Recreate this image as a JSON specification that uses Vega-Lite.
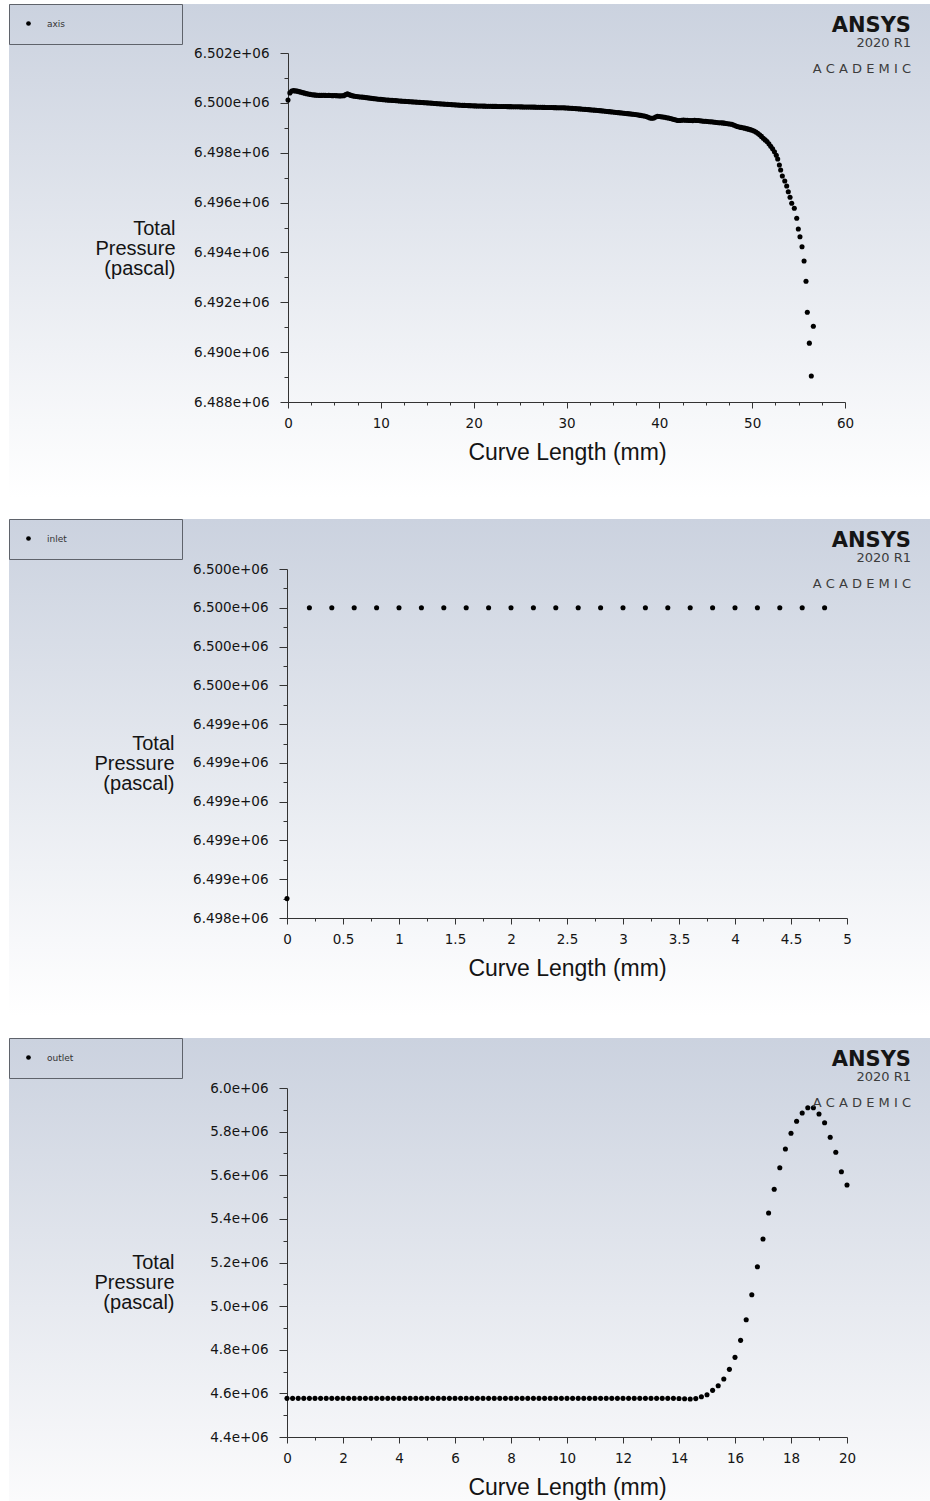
{
  "$schema": "https://vega.github.io/schema/vega-lite/v6.json",
  "background": "#ffffff",
  "padding": {"left": 8, "top": 3, "right": 0, "bottom": 0},
  "spacing": 20,
  "resolve": {"scale": {"color": "independent"}, "legend": {"color": "independent"}},
  "config": {
    "font": "Liberation Sans",
    "axis": {
      "grid": false,
      "domainColor": "#333333",
      "tickColor": "#333333",
      "domainWidth": 1,
      "tickWidth": 1,
      "labelColor": "#141414",
      "labelFont": "DejaVu Sans",
      "labelFontSize": 13.5,
      "titleColor": "#141414",
      "titleFont": "Liberation Sans",
      "titleFontWeight": "normal",
      "labelOverlap": false,
      "labelFlush": false,
      "labelBound": false
    },
    "axisX": {"labelPadding": 8, "titleFontSize": 23, "titleX": 558, "titleY": 57, "titleBaseline": "alphabetic", "titleAlign": "center", "titleAnchor": null},
    "axisY": {"labelPadding": 11, "titleFontSize": 20, "titleLineHeight": 20, "titleAngle": 0, "titleAlign": "right", "titleBaseline": "middle", "titleX": -113, "titleY": 224},
    "legend": {
      "fillColor": null,
      "strokeColor": "#5f636b",
      "padding": 15,
      "symbolType": "circle",
      "symbolSize": 22,
      "symbolFillColor": "#000000",
      "symbolStrokeWidth": 0,
      "labelFont": "DejaVu Sans",
      "labelFontSize": 9,
      "labelColor": "#333333",
      "labelOffset": 14,
      "titleFontSize": 9,
      "titleOrient": "right"
    },
    "title": {
      "anchor": "end",
      "frame": "group",
      "orient": "top",
      "font": "DejaVu Sans",
      "fontWeight": "bold",
      "fontSize": 21,
      "color": "#151515",
      "subtitleFont": "DejaVu Sans",
      "subtitleFontSize": 13,
      "subtitleColor": "#3c3c3c",
      "subtitleLineHeight": 26,
      "subtitlePadding": 1,
      "dx": -19,
      "dy": 76,
      "offset": 0
    }
  },
  "datasets": {
    "axis": [
      {"mm":0,"pa":6500110},{"mm":0.2,"pa":6500400},{"mm":0.4,"pa":6500475},{"mm":0.6,"pa":6500490},{"mm":0.8,"pa":6500480},
      {"mm":1,"pa":6500470},{"mm":1.2,"pa":6500450},{"mm":1.4,"pa":6500430},{"mm":1.6,"pa":6500410},{"mm":1.8,"pa":6500390},
      {"mm":2,"pa":6500370},{"mm":2.2,"pa":6500355},{"mm":2.4,"pa":6500340},{"mm":2.6,"pa":6500325},{"mm":2.8,"pa":6500320},
      {"mm":3,"pa":6500310},{"mm":3.2,"pa":6500305},{"mm":3.4,"pa":6500300},{"mm":3.6,"pa":6500300},{"mm":3.8,"pa":6500305},
      {"mm":4,"pa":6500300},{"mm":4.2,"pa":6500295},{"mm":4.4,"pa":6500300},{"mm":4.6,"pa":6500295},{"mm":4.8,"pa":6500290},
      {"mm":5,"pa":6500295},{"mm":5.2,"pa":6500290},{"mm":5.4,"pa":6500285},{"mm":5.6,"pa":6500280},{"mm":5.8,"pa":6500285},
      {"mm":6,"pa":6500290},{"mm":6.2,"pa":6500330},{"mm":6.4,"pa":6500360},{"mm":6.6,"pa":6500330},{"mm":6.8,"pa":6500300},
      {"mm":7,"pa":6500280},{"mm":7.2,"pa":6500265},{"mm":7.4,"pa":6500255},{"mm":7.6,"pa":6500245},{"mm":7.8,"pa":6500235},
      {"mm":8,"pa":6500230},{"mm":8.2,"pa":6500220},{"mm":8.4,"pa":6500210},{"mm":8.6,"pa":6500200},{"mm":8.8,"pa":6500190},
      {"mm":9,"pa":6500180},{"mm":9.2,"pa":6500170},{"mm":9.4,"pa":6500165},{"mm":9.6,"pa":6500155},{"mm":9.8,"pa":6500145},
      {"mm":10,"pa":6500140},{"mm":10.2,"pa":6500130},{"mm":10.4,"pa":6500125},{"mm":10.6,"pa":6500115},{"mm":10.8,"pa":6500110},
      {"mm":11,"pa":6500105},{"mm":11.2,"pa":6500100},{"mm":11.4,"pa":6500095},{"mm":11.6,"pa":6500090},{"mm":11.8,"pa":6500085},
      {"mm":12,"pa":6500075},{"mm":12.2,"pa":6500070},{"mm":12.4,"pa":6500065},{"mm":12.6,"pa":6500060},{"mm":12.8,"pa":6500055},
      {"mm":13,"pa":6500050},{"mm":13.2,"pa":6500045},{"mm":13.4,"pa":6500040},{"mm":13.6,"pa":6500035},{"mm":13.8,"pa":6500030},
      {"mm":14,"pa":6500025},{"mm":14.2,"pa":6500020},{"mm":14.4,"pa":6500015},{"mm":14.6,"pa":6500010},{"mm":14.8,"pa":6500005},
      {"mm":15,"pa":6500000},{"mm":15.2,"pa":6499995},{"mm":15.4,"pa":6499990},{"mm":15.6,"pa":6499985},{"mm":15.8,"pa":6499975},
      {"mm":16,"pa":6499970},{"mm":16.2,"pa":6499965},{"mm":16.4,"pa":6499960},{"mm":16.6,"pa":6499955},{"mm":16.8,"pa":6499950},
      {"mm":17,"pa":6499945},{"mm":17.2,"pa":6499940},{"mm":17.4,"pa":6499935},{"mm":17.6,"pa":6499930},{"mm":17.8,"pa":6499925},
      {"mm":18,"pa":6499920},{"mm":18.2,"pa":6499915},{"mm":18.4,"pa":6499910},{"mm":18.6,"pa":6499905},{"mm":18.8,"pa":6499900},
      {"mm":19,"pa":6499897},{"mm":19.2,"pa":6499893},{"mm":19.4,"pa":6499890},{"mm":19.6,"pa":6499887},{"mm":19.8,"pa":6499884},
      {"mm":20,"pa":6499880},{"mm":20.2,"pa":6499878},{"mm":20.4,"pa":6499876},{"mm":20.6,"pa":6499874},{"mm":20.8,"pa":6499872},
      {"mm":21,"pa":6499870},{"mm":21.2,"pa":6499868},{"mm":21.4,"pa":6499866},{"mm":21.6,"pa":6499864},{"mm":21.8,"pa":6499862},
      {"mm":22,"pa":6499860},{"mm":22.2,"pa":6499858},{"mm":22.4,"pa":6499857},{"mm":22.6,"pa":6499855},{"mm":22.8,"pa":6499854},
      {"mm":23,"pa":6499853},{"mm":23.2,"pa":6499852},{"mm":23.4,"pa":6499851},{"mm":23.6,"pa":6499850},{"mm":23.8,"pa":6499848},
      {"mm":24,"pa":6499847},{"mm":24.2,"pa":6499846},{"mm":24.4,"pa":6499845},{"mm":24.6,"pa":6499843},{"mm":24.8,"pa":6499841},
      {"mm":25,"pa":6499840},{"mm":25.2,"pa":6499838},{"mm":25.4,"pa":6499836},{"mm":25.6,"pa":6499835},{"mm":25.8,"pa":6499833},
      {"mm":26,"pa":6499832},{"mm":26.2,"pa":6499830},{"mm":26.4,"pa":6499829},{"mm":26.6,"pa":6499827},{"mm":26.8,"pa":6499825},
      {"mm":27,"pa":6499823},{"mm":27.2,"pa":6499821},{"mm":27.4,"pa":6499820},{"mm":27.6,"pa":6499818},{"mm":27.8,"pa":6499816},
      {"mm":28,"pa":6499815},{"mm":28.2,"pa":6499813},{"mm":28.4,"pa":6499812},{"mm":28.6,"pa":6499810},{"mm":28.8,"pa":6499808},
      {"mm":29,"pa":6499806},{"mm":29.2,"pa":6499805},{"mm":29.4,"pa":6499803},{"mm":29.6,"pa":6499801},{"mm":29.8,"pa":6499800},
      {"mm":30,"pa":6499795},{"mm":30.2,"pa":6499790},{"mm":30.4,"pa":6499785},{"mm":30.6,"pa":6499780},{"mm":30.8,"pa":6499775},
      {"mm":31,"pa":6499770},{"mm":31.2,"pa":6499763},{"mm":31.4,"pa":6499757},{"mm":31.6,"pa":6499751},{"mm":31.8,"pa":6499745},
      {"mm":32,"pa":6499740},{"mm":32.2,"pa":6499733},{"mm":32.4,"pa":6499727},{"mm":32.6,"pa":6499720},{"mm":32.8,"pa":6499714},
      {"mm":33,"pa":6499708},{"mm":33.2,"pa":6499702},{"mm":33.4,"pa":6499695},{"mm":33.6,"pa":6499687},{"mm":33.8,"pa":6499680},
      {"mm":34,"pa":6499672},{"mm":34.2,"pa":6499664},{"mm":34.4,"pa":6499656},{"mm":34.6,"pa":6499648},{"mm":34.8,"pa":6499640},
      {"mm":35,"pa":6499632},{"mm":35.2,"pa":6499624},{"mm":35.4,"pa":6499616},{"mm":35.6,"pa":6499608},{"mm":35.8,"pa":6499600},
      {"mm":36,"pa":6499592},{"mm":36.2,"pa":6499584},{"mm":36.4,"pa":6499576},{"mm":36.6,"pa":6499568},{"mm":36.8,"pa":6499560},
      {"mm":37,"pa":6499550},{"mm":37.2,"pa":6499540},{"mm":37.4,"pa":6499530},{"mm":37.6,"pa":6499520},{"mm":37.8,"pa":6499508},
      {"mm":38,"pa":6499496},{"mm":38.2,"pa":6499484},{"mm":38.4,"pa":6499472},{"mm":38.6,"pa":6499455},{"mm":38.8,"pa":6499420},
      {"mm":39,"pa":6499390},{"mm":39.2,"pa":6499380},{"mm":39.4,"pa":6499390},{"mm":39.6,"pa":6499430},{"mm":39.8,"pa":6499460},
      {"mm":40,"pa":6499455},{"mm":40.2,"pa":6499445},{"mm":40.4,"pa":6499430},{"mm":40.6,"pa":6499420},{"mm":40.8,"pa":6499405},
      {"mm":41,"pa":6499390},{"mm":41.2,"pa":6499370},{"mm":41.4,"pa":6499350},{"mm":41.6,"pa":6499330},{"mm":41.8,"pa":6499310},
      {"mm":42,"pa":6499295},{"mm":42.2,"pa":6499290},{"mm":42.4,"pa":6499300},{"mm":42.6,"pa":6499310},{"mm":42.8,"pa":6499305},
      {"mm":43,"pa":6499300},{"mm":43.2,"pa":6499295},{"mm":43.4,"pa":6499290},{"mm":43.6,"pa":6499288},{"mm":43.8,"pa":6499300},
      {"mm":44,"pa":6499295},{"mm":44.2,"pa":6499290},{"mm":44.4,"pa":6499285},{"mm":44.6,"pa":6499275},{"mm":44.8,"pa":6499265},
      {"mm":45,"pa":6499260},{"mm":45.2,"pa":6499255},{"mm":45.4,"pa":6499245},{"mm":45.6,"pa":6499240},{"mm":45.8,"pa":6499232},
      {"mm":46,"pa":6499225},{"mm":46.2,"pa":6499215},{"mm":46.4,"pa":6499205},{"mm":46.6,"pa":6499200},{"mm":46.8,"pa":6499195},
      {"mm":47,"pa":6499185},{"mm":47.2,"pa":6499170},{"mm":47.4,"pa":6499160},{"mm":47.6,"pa":6499152},{"mm":47.8,"pa":6499140},
      {"mm":48,"pa":6499110},{"mm":48.2,"pa":6499080},{"mm":48.4,"pa":6499050},{"mm":48.6,"pa":6499030},{"mm":48.8,"pa":6499015},
      {"mm":49,"pa":6499000},{"mm":49.2,"pa":6498985},{"mm":49.4,"pa":6498965},{"mm":49.6,"pa":6498945},{"mm":49.8,"pa":6498925},
      {"mm":50,"pa":6498900},{"mm":50.2,"pa":6498870},{"mm":50.4,"pa":6498830},{"mm":50.6,"pa":6498780},{"mm":50.8,"pa":6498720},
      {"mm":51,"pa":6498655},{"mm":51.2,"pa":6498580},{"mm":51.4,"pa":6498515},{"mm":51.6,"pa":6498450},{"mm":51.8,"pa":6498360},
      {"mm":52,"pa":6498260},{"mm":52.2,"pa":6498160},{"mm":52.4,"pa":6498040},{"mm":52.6,"pa":6497900},{"mm":52.75,"pa":6497748},
      {"mm":52.93,"pa":6497507},{"mm":53.07,"pa":6497307},{"mm":53.25,"pa":6497066},{"mm":53.51,"pa":6496866},{"mm":53.72,"pa":6496665},
      {"mm":53.89,"pa":6496436},{"mm":54.08,"pa":6496212},{"mm":54.26,"pa":6495971},{"mm":54.54,"pa":6495771},{"mm":54.8,"pa":6495370},
      {"mm":54.97,"pa":6494940},{"mm":55.15,"pa":6494631},{"mm":55.37,"pa":6494230},{"mm":55.59,"pa":6493657},{"mm":55.8,"pa":6492842},
      {"mm":55.94,"pa":6491600},{"mm":56.59,"pa":6491040},{"mm":56.16,"pa":6490360},{"mm":56.37,"pa":6489044}
    ],
    "inlet": [
      {"mm":0,"pa":6498500},{"mm":0.2,"pa":6500000},{"mm":0.4,"pa":6500000},{"mm":0.6,"pa":6500000},{"mm":0.8,"pa":6500000},
      {"mm":1,"pa":6500000},{"mm":1.2,"pa":6500000},{"mm":1.4,"pa":6500000},{"mm":1.6,"pa":6500000},{"mm":1.8,"pa":6500000},
      {"mm":2,"pa":6500000},{"mm":2.2,"pa":6500000},{"mm":2.4,"pa":6500000},{"mm":2.6,"pa":6500000},{"mm":2.8,"pa":6500000},
      {"mm":3,"pa":6500000},{"mm":3.2,"pa":6500000},{"mm":3.4,"pa":6500000},{"mm":3.6,"pa":6500000},{"mm":3.8,"pa":6500000},
      {"mm":4,"pa":6500000},{"mm":4.2,"pa":6500000},{"mm":4.4,"pa":6500000},{"mm":4.6,"pa":6500000},{"mm":4.8,"pa":6500000}
    ],
    "outlet": [
      {"mm":0,"pa":4577300},{"mm":0.2,"pa":4577300},{"mm":0.4,"pa":4577300},{"mm":0.6,"pa":4577300},{"mm":0.8,"pa":4577300},
      {"mm":1,"pa":4577300},{"mm":1.2,"pa":4577300},{"mm":1.4,"pa":4577300},{"mm":1.6,"pa":4577300},{"mm":1.8,"pa":4577300},
      {"mm":2,"pa":4577300},{"mm":2.2,"pa":4577300},{"mm":2.4,"pa":4577300},{"mm":2.6,"pa":4577300},{"mm":2.8,"pa":4577300},
      {"mm":3,"pa":4577300},{"mm":3.2,"pa":4577300},{"mm":3.4,"pa":4577300},{"mm":3.6,"pa":4577300},{"mm":3.8,"pa":4577300},
      {"mm":4,"pa":4577300},{"mm":4.2,"pa":4577300},{"mm":4.4,"pa":4577300},{"mm":4.6,"pa":4577300},{"mm":4.8,"pa":4577300},
      {"mm":5,"pa":4577300},{"mm":5.2,"pa":4577300},{"mm":5.4,"pa":4577300},{"mm":5.6,"pa":4577300},{"mm":5.8,"pa":4577300},
      {"mm":6,"pa":4577300},{"mm":6.2,"pa":4577300},{"mm":6.4,"pa":4577300},{"mm":6.6,"pa":4577300},{"mm":6.8,"pa":4577300},
      {"mm":7,"pa":4577300},{"mm":7.2,"pa":4577300},{"mm":7.4,"pa":4577300},{"mm":7.6,"pa":4577300},{"mm":7.8,"pa":4577300},
      {"mm":8,"pa":4577300},{"mm":8.2,"pa":4577300},{"mm":8.4,"pa":4577300},{"mm":8.6,"pa":4577300},{"mm":8.8,"pa":4577300},
      {"mm":9,"pa":4577300},{"mm":9.2,"pa":4577300},{"mm":9.4,"pa":4577300},{"mm":9.6,"pa":4577300},{"mm":9.8,"pa":4577300},
      {"mm":10,"pa":4577300},{"mm":10.2,"pa":4577300},{"mm":10.4,"pa":4577300},{"mm":10.6,"pa":4577300},{"mm":10.8,"pa":4577300},
      {"mm":11,"pa":4577300},{"mm":11.2,"pa":4577300},{"mm":11.4,"pa":4577300},{"mm":11.6,"pa":4577300},{"mm":11.8,"pa":4577300},
      {"mm":12,"pa":4577300},{"mm":12.2,"pa":4577300},{"mm":12.4,"pa":4577300},{"mm":12.6,"pa":4577300},{"mm":12.8,"pa":4577300},
      {"mm":13,"pa":4577300},{"mm":13.2,"pa":4577300},{"mm":13.4,"pa":4577300},{"mm":13.6,"pa":4577300},{"mm":13.8,"pa":4577300},
      {"mm":14,"pa":4576500},{"mm":14.2,"pa":4575500},{"mm":14.4,"pa":4574500},{"mm":14.6,"pa":4576000},{"mm":14.8,"pa":4584600},
      {"mm":15,"pa":4593800},{"mm":15.2,"pa":4613900},{"mm":15.4,"pa":4635000},{"mm":15.6,"pa":4665800},{"mm":15.8,"pa":4710200},
      {"mm":16,"pa":4765200},{"mm":16.2,"pa":4843200},{"mm":16.4,"pa":4937600},{"mm":16.6,"pa":5052300},{"mm":16.8,"pa":5180600},
      {"mm":17,"pa":5307700},{"mm":17.2,"pa":5426900},{"mm":17.4,"pa":5535500},{"mm":17.6,"pa":5634600},{"mm":17.8,"pa":5720300},
      {"mm":18,"pa":5792300},{"mm":18.2,"pa":5847300},{"mm":18.4,"pa":5885400},{"mm":18.6,"pa":5909700},{"mm":18.8,"pa":5909700},
      {"mm":19,"pa":5880800},{"mm":19.2,"pa":5840900},{"mm":19.4,"pa":5774000},{"mm":19.6,"pa":5705200},{"mm":19.8,"pa":5616200},
      {"mm":20,"pa":5555200}
    ]
  },
  "vconcat": [
    {
      "width": 921,
      "height": 494,
      "view": {"stroke": null, "fill": {"gradient": "linear", "x1": 0, "y1": 0, "x2": 0, "y2": 1, "stops": [{"offset": 0, "color": "#cbd2df"}, {"offset": 1, "color": "#ffffff"}]}},
      "title": {"text": "ANSYS", "subtitle": ["2020 R1", "A C A D E M I C"]},
      "data": {"name": "axis"},
      "mark": {"type": "point", "filled": true, "size": 26, "opacity": 1},
      "encoding": {
        "x": {
          "field": "mm", "type": "quantitative",
          "scale": {"domain": [0, 60], "range": [279, 836], "nice": false, "zero": false},
          "axis": {
            "title": "Curve Length (mm)", "offset": -96,
            "values": [0,2.5,5,7.5,10,12.5,15,17.5,20,22.5,25,27.5,30,32.5,35,37.5,40,42.5,45,47.5,50,52.5,55,57.5,60],
            "labelExpr": "datum.value % 10 === 0 ? format(datum.value, 'd') : ''",
            "tickSize": {"condition": {"test": "datum.value % 10 === 0", "value": 6}, "value": 3}
          }
        },
        "y": {
          "field": "pa", "type": "quantitative",
          "scale": {"domain": [6488000, 6502000], "range": [398, 49], "nice": false, "zero": false},
          "axis": {
            "title": ["Total", "Pressure", "(pascal)"], "offset": -279,
            "values": [6488000,6489000,6490000,6491000,6492000,6493000,6494000,6495000,6496000,6497000,6498000,6499000,6500000,6501000,6502000],
            "labelExpr": "datum.value % 2000 === 0 ? replace(format(datum.value, '.3e'), 'e+6', 'e+06') : ''",
            "tickSize": {"condition": {"test": "datum.value % 2000 === 0", "value": 8}, "value": 4}
          }
        },
        "color": {
          "datum": "axis", "type": "nominal",
          "scale": {"range": ["#000000"]},
          "legend": {"orient": "none", "legendX": 0, "legendY": 0, "title": " ", "titlePadding": 102}
        }
      }
    },
    {
      "width": 921,
      "height": 498,
      "view": {"stroke": null, "fill": {"gradient": "linear", "x1": 0, "y1": 0, "x2": 0, "y2": 1, "stops": [{"offset": 0, "color": "#cbd2df"}, {"offset": 1, "color": "#ffffff"}]}},
      "title": {"text": "ANSYS", "subtitle": ["2020 R1", "A C A D E M I C"]},
      "data": {"name": "inlet"},
      "mark": {"type": "point", "filled": true, "size": 26, "opacity": 1},
      "encoding": {
        "x": {
          "field": "mm", "type": "quantitative",
          "scale": {"domain": [0, 5], "range": [278, 838], "nice": false, "zero": false},
          "axis": {
            "title": "Curve Length (mm)", "offset": -99,
            "values": [0,0.25,0.5,0.75,1,1.25,1.5,1.75,2,2.25,2.5,2.75,3,3.25,3.5,3.75,4,4.25,4.5,4.75,5],
            "labelExpr": "datum.value % 0.5 === 0 ? format(datum.value, '~g') : ''",
            "tickSize": {"condition": {"test": "datum.value % 0.5 === 0", "value": 6}, "value": 3}
          }
        },
        "y": {
          "field": "pa", "type": "quantitative",
          "scale": {"domain": [6498400, 6500200], "range": [399, 50], "nice": false, "zero": false},
          "axis": {
            "title": ["Total", "Pressure", "(pascal)"], "offset": -278,
            "values": [6498400,6498500,6498600,6498700,6498800,6498900,6499000,6499100,6499200,6499300,6499400,6499500,6499600,6499700,6499800,6499900,6500000,6500100,6500200],
            "labelExpr": "datum.value % 200 === 0 ? replace(format(datum.value, '.3e'), 'e+6', 'e+06') : ''",
            "tickSize": {"condition": {"test": "datum.value % 200 === 0", "value": 8}, "value": 4}
          }
        },
        "color": {
          "datum": "inlet", "type": "nominal",
          "scale": {"range": ["#000000"]},
          "legend": {"orient": "none", "legendX": 0, "legendY": 0, "title": " ", "titlePadding": 100}
        }
      }
    },
    {
      "width": 921,
      "height": 463,
      "view": {"stroke": null, "fill": {"gradient": "linear", "x1": 0, "y1": 0, "x2": 0, "y2": 1, "stops": [{"offset": 0, "color": "#cbd2df"}, {"offset": 1, "color": "#fbfbfc"}]}},
      "title": {"text": "ANSYS", "subtitle": ["2020 R1", "A C A D E M I C"]},
      "data": {"name": "outlet"},
      "mark": {"type": "point", "filled": true, "size": 26, "opacity": 1},
      "encoding": {
        "x": {
          "field": "mm", "type": "quantitative",
          "scale": {"domain": [0, 20], "range": [278, 838], "nice": false, "zero": false},
          "axis": {
            "title": "Curve Length (mm)", "offset": -64,
            "values": [0,1,2,3,4,5,6,7,8,9,10,11,12,13,14,15,16,17,18,19,20],
            "labelExpr": "datum.value % 2 === 0 ? format(datum.value, 'd') : ''",
            "tickSize": {"condition": {"test": "datum.value % 2 === 0", "value": 6}, "value": 3}
          }
        },
        "y": {
          "field": "pa", "type": "quantitative",
          "scale": {"domain": [4400000, 6000000], "range": [399, 50], "nice": false, "zero": false},
          "axis": {
            "title": ["Total", "Pressure", "(pascal)"], "offset": -278,
            "values": [4400000,4500000,4600000,4700000,4800000,4900000,5000000,5100000,5200000,5300000,5400000,5500000,5600000,5700000,5800000,5900000,6000000],
            "labelExpr": "datum.value % 200000 === 0 ? replace(format(datum.value, '.1e'), 'e+6', 'e+06') : ''",
            "tickSize": {"condition": {"test": "datum.value % 200000 === 0", "value": 8}, "value": 4}
          }
        },
        "color": {
          "datum": "outlet", "type": "nominal",
          "scale": {"range": ["#000000"]},
          "legend": {"orient": "none", "legendX": 0, "legendY": 0, "title": " ", "titlePadding": 94}
        }
      }
    }
  ]
}
